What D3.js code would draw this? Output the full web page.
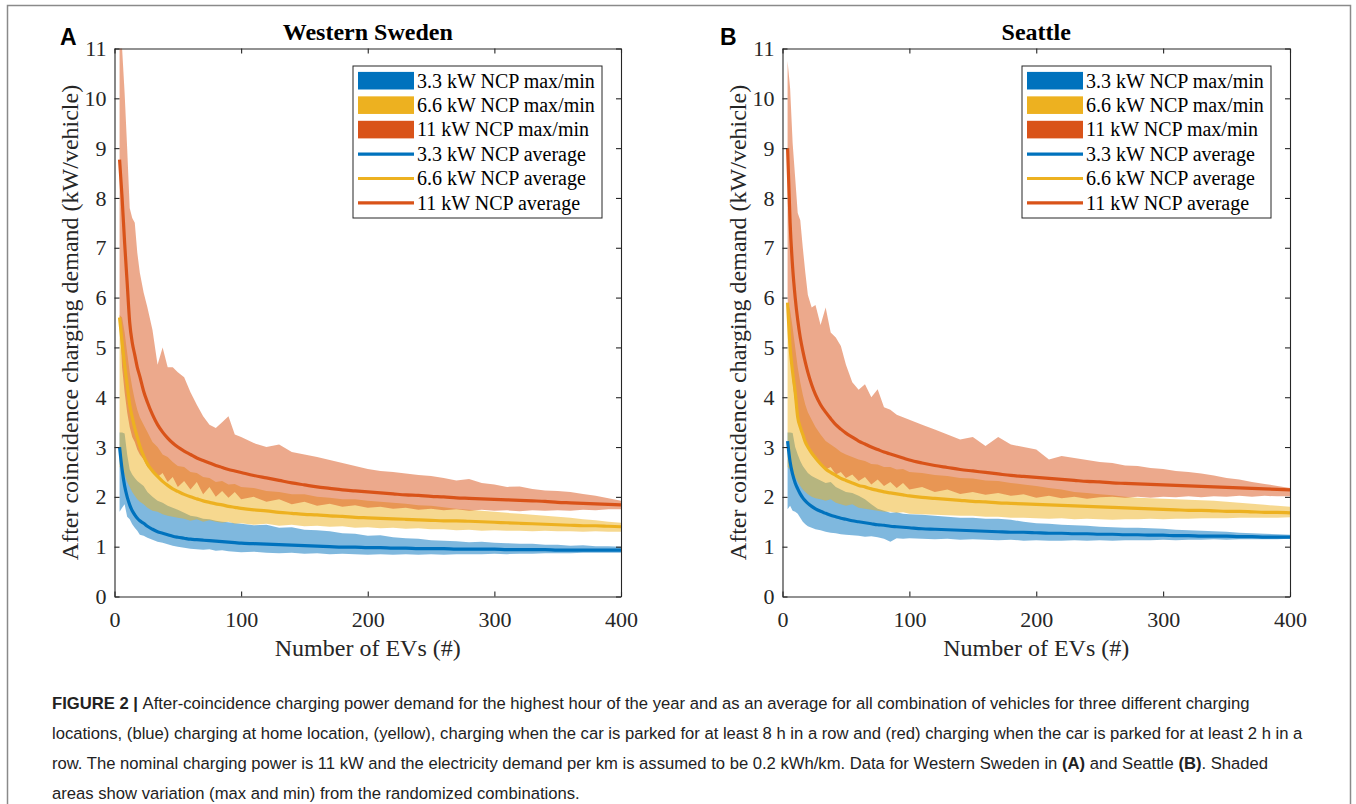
<!DOCTYPE html>
<html><head><meta charset="utf-8">
<script src="https://cdn.jsdelivr.net/npm/d3@7"></script>
<style>body{margin:0;background:#fff}svg{display:block}</style>
</head><body>
<svg id="c" width="1356" height="804"></svg>
<script>
// ---------- DATA ----------
const evs = [4,6,8,10,12,14,16,18,20, 23,26,30,34,38,42,46,50, 55,60,65,70,75,80,85,90,95,100,
  110,120,130,140,150,160,170,180,190,200,210,220,230,240,250,260,270,280,290,300,310,320,330,340,350,360,370,380,390,400];

// Western Sweden
const swBlueAvg = [3.00,2.55,2.22,2.00,1.84,1.72,1.64,1.57,1.52, 1.47,1.41,1.35,1.30,1.27,1.24,1.21,1.19, 1.17,1.15,1.14,1.13,1.12,1.11,1.10,1.09,1.08,1.07,
  1.06,1.05,1.04,1.03,1.02,1.01,1.00,0.99,0.99,0.98,0.98,0.97,0.97,0.96,0.96,0.96,0.95,0.95,0.95,0.95,0.94,0.94,0.94,0.94,0.93,0.93,0.93,0.93,0.93,0.93];
const swBlueMax = [3.29,3.29,3.27,2.85,2.55,2.45,2.38,2.32,2.28, 2.22,2.10,2.00,1.92,1.88,1.82,1.78,1.74, 1.68,1.62,1.60,1.56,1.55,1.52,1.50,1.49,1.47,1.46,
  1.43,1.44,1.38,1.39,1.34,1.33,1.31,1.27,1.26,1.22,1.23,1.19,1.17,1.16,1.13,1.12,1.11,1.09,1.10,1.08,1.07,1.06,1.06,1.04,1.04,1.02,1.03,1.01,1.01,1.00];
const swBlueMin = [1.70,1.78,1.85,1.60,1.55,1.45,1.38,1.32,1.24, 1.22,1.18,1.14,1.10,1.08,1.05,1.02,1.00, 0.98,0.96,0.95,0.94,0.95,0.92,0.93,0.91,0.90,0.89,
  0.90,0.88,0.87,0.88,0.86,0.87,0.85,0.86,0.85,0.84,0.85,0.84,0.85,0.84,0.85,0.84,0.85,0.85,0.85,0.86,0.85,0.86,0.86,0.87,0.87,0.87,0.88,0.88,0.88,0.88];
const swYellowAvg = [5.60,5.10,4.65,4.25,3.85,3.60,3.38,3.20,3.02, 2.82,2.66,2.52,2.41,2.31,2.23,2.16,2.11, 2.05,2.00,1.96,1.92,1.89,1.86,1.84,1.81,1.79,1.77,
  1.74,1.72,1.69,1.67,1.65,1.64,1.62,1.61,1.59,1.58,1.57,1.56,1.55,1.54,1.53,1.52,1.52,1.51,1.50,1.49,1.48,1.47,1.46,1.45,1.44,1.43,1.42,1.42,1.41,1.40];
const swYellowMax = [5.65,5.60,5.30,4.90,4.50,4.20,3.95,3.75,3.60, 3.45,3.30,3.10,3.00,2.85,2.80,2.70,2.62, 2.60,2.50,2.48,2.40,2.38,2.30,2.32,2.25,2.26,2.20,
  2.18,2.12,2.10,2.05,2.05,2.00,1.98,1.95,1.95,1.92,1.90,1.88,1.86,1.83,1.82,1.79,1.76,1.74,1.72,1.70,1.68,1.66,1.64,1.62,1.60,1.58,1.55,1.53,1.50,1.48];
const swYellowMin = [2.60,2.55,2.45,2.30,2.20,2.10,2.02,1.95,1.90, 1.85,1.78,1.72,1.70,1.65,1.62,1.60,1.58, 1.56,1.52,1.55,1.50,1.53,1.50,1.48,1.50,1.46,1.47,
  1.44,1.46,1.42,1.44,1.41,1.42,1.40,1.41,1.38,1.39,1.37,1.38,1.36,1.37,1.35,1.35,1.33,1.34,1.32,1.33,1.32,1.32,1.31,1.32,1.31,1.31,1.30,1.31,1.30,1.30];
const swRedAvg = [8.77,8.00,7.10,6.30,5.50,5.10,4.85,4.60,4.42, 4.12,3.90,3.65,3.45,3.30,3.18,3.08,3.00, 2.92,2.85,2.78,2.73,2.68,2.63,2.59,2.55,2.52,2.49,
  2.43,2.38,2.33,2.28,2.24,2.20,2.17,2.14,2.12,2.10,2.08,2.06,2.04,2.03,2.01,2.00,1.98,1.97,1.96,1.95,1.94,1.93,1.92,1.91,1.89,1.88,1.87,1.86,1.85,1.84];
const swRedMax = [11.40,11.00,10.10,9.00,7.80,7.60,7.50,6.90,6.50, 6.10,5.80,5.35,4.65,5.00,4.60,4.60,4.50, 4.40,4.10,3.85,3.62,3.45,3.38,3.50,3.62,3.25,3.20,
  3.08,3.00,3.05,2.90,2.85,2.80,2.74,2.68,2.62,2.56,2.52,2.50,2.47,2.44,2.42,2.38,2.33,2.36,2.28,2.25,2.20,2.21,2.16,2.13,2.12,2.10,2.06,2.02,1.97,1.92];
const swRedMin = [5.60,4.60,4.10,3.70,3.40,3.20,3.10,2.95,2.85, 2.75,2.60,2.55,2.40,2.48,2.30,2.40,2.20, 2.32,2.15,2.30,2.05,2.20,2.00,2.12,1.98,2.10,1.95,
  2.00,1.90,1.95,1.85,1.90,1.82,1.86,1.80,1.83,1.78,1.80,1.76,1.78,1.74,1.76,1.73,1.75,1.72,1.74,1.72,1.73,1.71,1.73,1.72,1.73,1.72,1.74,1.73,1.75,1.75];

// Seattle
const seBlueAvg = [3.12,2.70,2.45,2.28,2.16,2.06,1.98,1.92,1.87, 1.81,1.76,1.71,1.67,1.63,1.60,1.57,1.55, 1.52,1.50,1.48,1.46,1.44,1.43,1.41,1.40,1.39,1.38,
  1.36,1.35,1.34,1.33,1.32,1.31,1.30,1.29,1.29,1.28,1.27,1.27,1.26,1.26,1.25,1.25,1.24,1.24,1.23,1.23,1.22,1.22,1.21,1.21,1.21,1.20,1.20,1.19,1.19,1.19];
const seBlueMax = [3.29,3.29,3.28,3.00,2.85,2.72,2.62,2.55,2.48, 2.42,2.38,2.33,2.28,2.30,2.20,2.15,2.10, 2.08,2.02,1.95,1.85,1.76,1.72,1.68,1.69,1.66,1.65,
  1.64,1.62,1.60,1.58,1.58,1.56,1.56,1.54,1.50,1.47,1.46,1.44,1.43,1.42,1.40,1.39,1.38,1.38,1.37,1.36,1.34,1.33,1.32,1.31,1.30,1.28,1.27,1.26,1.25,1.24];
const seBlueMin = [1.75,1.82,1.72,1.70,1.66,1.58,1.50,1.45,1.41, 1.38,1.35,1.33,1.30,1.28,1.27,1.25,1.24, 1.23,1.22,1.20,1.21,1.19,1.16,1.10,1.17,1.16,1.17,
  1.16,1.15,1.16,1.14,1.15,1.14,1.13,1.14,1.12,1.13,1.12,1.12,1.13,1.12,1.13,1.12,1.13,1.13,1.13,1.14,1.13,1.14,1.14,1.15,1.14,1.15,1.15,1.15,1.15,1.16];
const seYellowAvg = [5.90,5.00,4.50,4.10,3.60,3.40,3.25,3.10,3.00, 2.88,2.78,2.66,2.56,2.49,2.43,2.37,2.33, 2.28,2.23,2.20,2.16,2.13,2.10,2.08,2.06,2.04,2.02,
  1.99,1.97,1.95,1.93,1.91,1.90,1.88,1.87,1.86,1.85,1.84,1.83,1.82,1.81,1.80,1.79,1.78,1.77,1.76,1.75,1.74,1.73,1.73,1.72,1.71,1.71,1.70,1.69,1.69,1.68];
const seYellowMax = [5.90,5.75,5.40,5.00,4.60,4.30,4.05,3.85,3.70, 3.55,3.40,3.25,3.12,3.05,2.98,2.90,2.85, 2.80,2.75,2.72,2.66,2.65,2.60,2.60,2.55,2.56,2.50,
  2.48,2.44,2.42,2.38,2.37,2.33,2.32,2.28,2.25,2.22,2.18,2.15,2.10,2.08,2.05,2.03,2.00,1.98,1.97,1.96,1.95,1.94,1.93,1.92,1.90,1.88,1.86,1.84,1.82,1.80];
const seYellowMin = [2.60,2.55,2.50,2.40,2.30,2.22,2.15,2.10,2.05, 2.00,1.97,1.95,1.92,1.95,1.88,1.85,1.82, 1.85,1.78,1.76,1.74,1.72,1.70,1.70,1.68,1.69,1.66,
  1.65,1.64,1.63,1.62,1.62,1.60,1.60,1.58,1.58,1.57,1.56,1.57,1.55,1.56,1.55,1.54,1.55,1.55,1.56,1.55,1.56,1.56,1.57,1.57,1.57,1.58,1.58,1.58,1.58,1.59];
const seRedAvg = [9.00,7.50,6.60,6.00,5.55,5.20,4.93,4.70,4.50, 4.25,4.05,3.85,3.70,3.57,3.45,3.36,3.28, 3.20,3.12,3.06,3.00,2.95,2.90,2.86,2.82,2.78,2.74,
  2.68,2.63,2.59,2.55,2.52,2.49,2.46,2.43,2.41,2.39,2.37,2.35,2.33,2.31,2.30,2.28,2.27,2.26,2.25,2.24,2.23,2.22,2.21,2.20,2.19,2.18,2.17,2.16,2.15,2.14];
const seRedMax = [10.75,10.20,9.10,8.40,7.70,7.55,7.00,6.50,6.05, 5.80,5.85,5.45,5.80,5.30,5.20,5.03,4.65, 4.30,4.15,4.26,4.00,4.16,3.80,3.75,3.65,3.60,3.55,
  3.45,3.35,3.25,3.15,3.20,3.02,3.20,3.05,3.00,2.95,2.75,2.82,2.78,2.74,2.70,2.68,2.63,2.62,2.58,2.56,2.52,2.50,2.47,2.43,2.38,2.35,2.30,2.26,2.22,2.18];
const seRedMin = [6.00,5.00,4.30,3.90,3.60,3.40,3.25,3.10,3.00, 2.85,2.75,2.70,2.55,2.60,2.45,2.50,2.38, 2.45,2.32,2.40,2.25,2.35,2.22,2.30,2.18,2.28,2.15,
  2.20,2.10,2.15,2.06,2.10,2.04,2.08,2.02,2.05,1.98,2.02,1.97,2.00,1.96,1.99,2.00,1.98,2.00,1.98,2.00,1.99,2.01,1.99,2.01,2.00,2.02,2.00,2.02,2.01,2.01];

const xTicks = [0,100,200,300,400];
const yTicks = [0,1,2,3,4,5,6,7,8,9,10,11];
const legendLabels = ['3.3 kW NCP max/min','6.6 kW NCP max/min','11 kW NCP max/min',
                      '3.3 kW NCP average','6.6 kW NCP average','11 kW NCP average'];
const panelTitles = ['Western Sweden','Seattle'];
const panelLetters = ['A','B'];
const xLabel = 'Number of EVs (#)';
const yLabel = 'After coincidence charging demand (kW/vehicle)';
const captionLines = [
  [['FIGURE 2 | ',true],['After-coincidence charging power demand for the highest hour of the year and as an average for all combination of vehicles for three different charging',false]],
  [['locations, (blue) charging at home location, (yellow), charging when the car is parked for at least 8 h in a row and (red) charging when the car is parked for at least 2 h in a',false]],
  [['row. The nominal charging power is 11 kW and the electricity demand per km is assumed to be 0.2 kWh/km. Data for Western Sweden in ',false],['(A)',true],[' and Seattle ',false],['(B)',true],['. Shaded',false]],
  [['areas show variation (max and min) from the randomized combinations.',false]]
];

// ---------- STYLE / LAYOUT ----------
const colors = ['#0072BD','#EDB120','#D95319'];
const serif = '"Liberation Serif","Times New Roman",Times,serif';
const sans = '"Liberation Sans",Arial,Helvetica,sans-serif';
const axisColor = '#262626';
const yTop = 48.5, yBot = 596.5;

const svg = d3.select('#c');
svg.append('rect').attr('x',7.5).attr('y',5.5).attr('width',1343).attr('height',900)
  .attr('fill','none').attr('stroke','#8a8a8a').attr('stroke-width',1.5);

const panels = [
  {x0:114.5, x1:621, title:panelTitles[0], letter:panelLetters[0], letterX:60,
   series:[[swBlueMin,swBlueMax,swBlueAvg],[swYellowMin,swYellowMax,swYellowAvg],[swRedMin,swRedMax,swRedAvg]]},
  {x0:782.5, x1:1290, title:panelTitles[1], letter:panelLetters[1], letterX:720,
   series:[[seBlueMin,seBlueMax,seBlueAvg],[seYellowMin,seYellowMax,seYellowAvg],[seRedMin,seRedMax,seRedAvg]]}
];

panels.forEach((p,pi)=>{
  const x = d3.scaleLinear().domain([0,400]).range([p.x0,p.x1]);
  const y = d3.scaleLinear().domain([0,11]).range([yBot,yTop]);
  const g = svg.append('g');
  const clipId = 'clip'+pi;
  svg.append('clipPath').attr('id',clipId).append('rect')
    .attr('x',p.x0).attr('y',yTop).attr('width',p.x1-p.x0).attr('height',yBot-yTop);
  const plot = g.append('g').attr('clip-path',`url(#${clipId})`);

  const area = d3.area().x((d,i)=>x(evs[i])).y0(d=>y(d[0])).y1(d=>y(d[1]));
  p.series.forEach((s,si)=>{
    const pts = evs.map((e,i)=>[s[0][i], s[1][i]]);
    plot.append('path').datum(pts).attr('d',area)
      .attr('fill',colors[si]).attr('fill-opacity',0.5).attr('stroke','none');
  });
  const line = d3.line().x((d,i)=>x(evs[i])).y(d=>y(d)).curve(d3.curveMonotoneX);
  p.series.forEach((s,si)=>{
    plot.append('path').datum(s[2]).attr('d',line)
      .attr('fill','none').attr('stroke',colors[si]).attr('stroke-width',3.2).attr('stroke-linejoin','round');
  });

  // axes (ticks inside, box)
  const styleAxis = sel => {
    sel.attr('font-family',serif).attr('font-size',22);
    sel.selectAll('path.domain').attr('stroke',axisColor).attr('stroke-width',1.1);
    sel.selectAll('.tick line').attr('stroke',axisColor).attr('stroke-width',1.1);
    sel.selectAll('.tick text').attr('fill',axisColor);
  };
  g.append('g').attr('transform',`translate(0,${yBot})`)
    .call(d3.axisBottom(x).tickValues(xTicks).tickSize(-5).tickSizeOuter(0).tickPadding(15)).call(styleAxis);
  g.append('g').attr('transform',`translate(0,${yTop})`)
    .call(d3.axisTop(x).tickValues(xTicks).tickSize(-5).tickSizeOuter(0).tickFormat('')).call(styleAxis);
  g.append('g').attr('transform',`translate(${p.x0},0)`)
    .call(d3.axisLeft(y).tickValues(yTicks).tickSize(-5).tickSizeOuter(0).tickPadding(8)).call(styleAxis);
  g.append('g').attr('transform',`translate(${p.x1},0)`)
    .call(d3.axisRight(y).tickValues(yTicks).tickSize(-5).tickSizeOuter(0).tickFormat('')).call(styleAxis);

  // labels
  const cx = (p.x0+p.x1)/2;
  g.append('text').attr('x',cx).attr('y',39.5).attr('text-anchor','middle')
    .attr('font-family',serif).attr('font-weight','bold').attr('font-size',24).attr('fill','#000').text(p.title);
  g.append('text').attr('x',p.letterX).attr('y',44.5)
    .attr('font-family',sans).attr('font-weight','bold').attr('font-size',23).attr('fill','#000').text(p.letter);
  g.append('text').attr('x',cx).attr('y',655.5).attr('text-anchor','middle')
    .attr('font-family',serif).attr('font-size',24).attr('fill',axisColor).text(xLabel);
  g.append('text').attr('transform',`translate(${p.x0-36.5},${(yTop+yBot)/2}) rotate(-90)`).attr('text-anchor','middle')
    .attr('font-family',serif).attr('font-size',24).attr('fill',axisColor).text(yLabel);

  // legend
  const lx = p.x1-19-249, ly = 66;
  const lg = g.append('g');
  lg.append('rect').attr('x',lx).attr('y',ly).attr('width',249).attr('height',152)
    .attr('fill','#fff').attr('stroke',axisColor).attr('stroke-width',1);
  legendLabels.forEach((lab,i)=>{
    const cy = 80.7 + i*24.45;
    const col = colors[i%3];
    if(i<3){
      lg.append('rect').attr('x',lx+5).attr('y',cy-8.8).attr('width',56).attr('height',17.6).attr('fill',col);
    } else {
      lg.append('line').attr('x1',lx+5).attr('x2',lx+61).attr('y1',cy).attr('y2',cy)
        .attr('stroke',col).attr('stroke-width',3.2);
    }
    lg.append('text').attr('x',lx+64).attr('y',cy+6.8).attr('font-family',serif).attr('font-size',20)
      .attr('fill','#000').text(lab);
  });
});

// caption
const cap = svg.append('g');
const capY = [709, 739, 769, 798.5];
const texts = captionLines.map((segs,li)=>{
  const t = cap.append('text').attr('x',52).attr('y',capY[li]).attr('font-family',sans).attr('font-size',16).attr('fill','#222');
  segs.forEach(([s,b])=>t.append('tspan').attr('font-weight',b?'bold':'normal').text(s));
  return t;
});
const wMax = d3.max(texts, t=>t.node().getComputedTextLength());
const fs = 16*1251/wMax;
texts.forEach(t=>t.attr('font-size',fs));
</script>
</body></html>
